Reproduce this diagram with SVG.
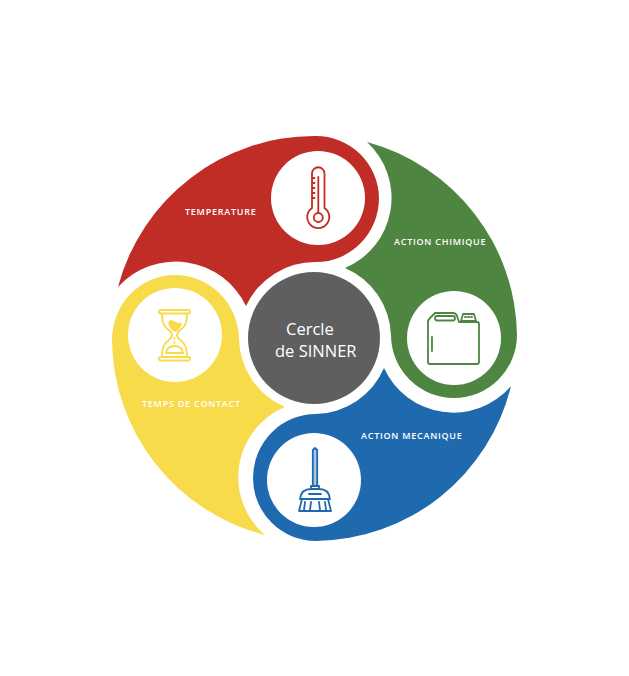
<svg xmlns="http://www.w3.org/2000/svg" width="629" height="676" viewBox="0 0 629 676">
<style>
.hole{fill:#fff}
.lab{font-family:"Open Sans","Liberation Sans",sans-serif;font-size:9px;font-weight:600;fill:#fff;letter-spacing:.75px}
.ctr{font-family:"Open Sans","Liberation Sans",sans-serif;font-size:16.5px;fill:#fff}
.ic{fill:none;stroke-width:1.8;stroke-linejoin:round;stroke-linecap:round}
</style>
<rect width="629" height="676" fill="#fff"/>
<g id="temperature">
<path fill="#c02d26" d="M118,287A203,203 0 0 1 315,136A63,63 0 0 1 379,198A63,64 0 0 1 316,262A76,76 0 0 0 246,306A78,78 0 0 0 118,287Z"/>
<circle class="hole" cx="318" cy="198" r="47"/>
<g class="ic" stroke="#c02d26" stroke-width="2">
<path d="M312,208V173.500A6.200,6.200 0 0 1 324.500,173.500V208A11,11 0 1 1 312,208Z"/>
<circle cx="318.300" cy="217.500" r="4.500"/>
<path d="M318.300,213V177M312.500,178h2M312.500,183h2M312.500,188h2M312.500,193h2M312.500,198h2"/>
</g>
<text class="lab" x="185" y="215">TEMPERATURE</text>
</g>
<g id="action-chimique">
<path fill="#4e8540" d="M367,142A203,203 0 0 1 517,335A63,63 0 0 1 391,335A76,76 0 0 0 345,268A76,76 0 0 0 367,142Z"/>
<circle class="hole" cx="454" cy="338" r="47"/>
<g class="ic" stroke="#4e8540">
<path d="M435,313H453Q456,313 457,316L459,322H477Q479,322 479,324V362Q479,364 477,364H430Q428,364 428,362V322Q428,320 430,318Z"/>
<rect x="435" y="316" width="20" height="4.500" rx="2.200"/>
<path d="M461,321L463,314H474L476,321ZM465,317h1M468,317h1M471,317h1M432,337V351"/>
</g>
<text class="lab" x="394" y="245">ACTION CHIMIQUE</text>
</g>
<g id="action-mecanique">
<path fill="#1f6aae" d="M511,386A203,203 0 0 1 316,541A63,63 0 0 1 253,478A63,64 0 0 1 316,414A76,76 0 0 0 384,368A76,76 0 0 0 511,386Z"/>
<circle class="hole" cx="314" cy="480" r="47"/>
<g class="ic" stroke="#1f6aae">
<path fill="#a9c6e2" d="M312.800,486V450L315,448L317.200,450V486Z"/>
<path d="M311,489V486H319V489M300,499Q301,489 311,489H319Q329,489 330,499ZM309,494H321"/>
<path d="M302,499L299,511H331L328,499M305,502L304,510M311,502L310,510M319,502L320,510M325,502L326,510"/>
</g>
<text class="lab" x="361" y="439">ACTION MECANIQUE</text>
</g>
<g id="temps-de-contact">
<path fill="#f7db4a" d="M112,340A63,65 0 0 1 175,275A64,65 0 0 1 239,340A76,76 0 0 0 285,407A76,76 0 0 0 265,535A203,203 0 0 1 112,340Z"/>
<circle class="hole" cx="175" cy="335" r="47"/>
<g class="ic" stroke="#f7db4a">
<rect x="159" y="310" width="31" height="3.500" rx="1.700"/>
<rect x="159" y="357" width="31" height="3.500" rx="1.700"/>
<path d="M162,314C162,332 172,328 172,335C172,342 162,338 162,357M187,314C187,332 177,328 177,335C177,342 187,338 187,357"/>
<path fill="#f7db4a" d="M169,323Q170,320 174,322Q178,324 181,324Q178,330 175,331Q171,329 169,323Z"/>
<path d="M166,353Q167,346 174.500,346Q182,346 183,353ZM174.500,338v1M174.500,342v1"/>
</g>
<text class="lab" x="142" y="407">TEMPS DE CONTACT</text>
</g>
<g id="cercle-de-sinner">
<circle cx="314" cy="338" r="66" fill="#5f5f5f"/>
<text class="ctr" x="286" y="335">Cercle</text>
<text class="ctr" x="275" y="357">de SINNER</text>
</g>
</svg>
